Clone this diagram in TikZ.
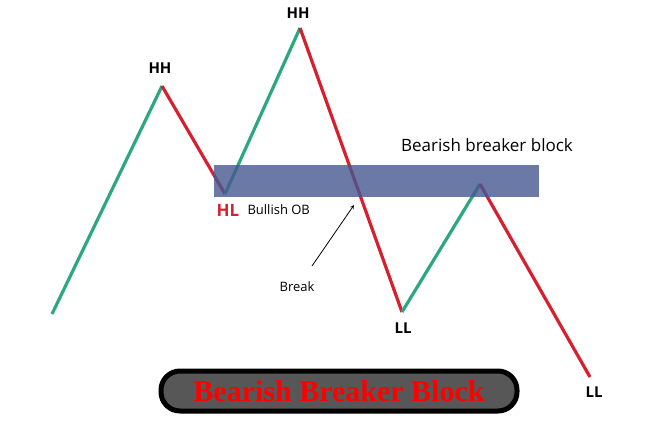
\documentclass[tikz,border=0pt]{standalone}
\usepackage{fontspec}
\setmainfont{Open Sans}
\newfontfamily\serifb{Liberation Serif}
\definecolor{upg}{RGB}{44,168,128}
\definecolor{dnr}{RGB}{214,32,48}
\definecolor{obb}{RGB}{70,88,145}
\begin{document}
\begin{tikzpicture}[x=1pt,y=-1pt,
  upl/.style={upg,line width=3.2pt},
  dnl/.style={dnr,line width=3.2pt},
  lbl/.style={font=\bfseries\fontsize{15}{15}\selectfont},
  txt/.style={font=\fontsize{13}{13}\selectfont}]
\useasboundingbox (0,0) rectangle (664,424);
\coordinate (s) at (52,314);
\coordinate (h1) at (162,86);
\coordinate (hl) at (225,194);
\coordinate (h2) at (300,28);
\coordinate (l1) at (402,312);
\coordinate (lh) at (480,184);
\coordinate (l2) at (590,377);
\draw[upl] (s) -- (h1);
\draw[dnl] (h1) -- (hl);
\draw[upl] (hl) -- (h2);
\draw[dnl] (h2) -- (l1);
\draw[upl] (l1) -- (lh);
\draw[dnl] (lh) -- (l2);
\node[fill=obb,fill opacity=0.8,minimum width=325pt,minimum height=32pt,inner sep=0pt] (ob) at (376.5,181) {};
\node[lbl] (th1) at (160,68) {HH};
\node[lbl] (th2) at (298,13) {HH};
\node[lbl,text=dnr,font=\bfseries\fontsize{17}{17}\selectfont] (thl) at (228,210) {HL};
\node[txt,anchor=west] (bob) at (244,210) {Bullish OB};
\node[font=\fontsize{17}{17}\selectfont] (bbb) at (487,145) {Bearish breaker block};
\node[txt] (brk) at (297,287) {Break};
\coordinate (a1) at (312,266);
\coordinate (a2) at (354,205);
\draw[-stealth,line width=0.8pt] (a1) -- (a2);
\node[lbl] (tl1) at (403,328) {LL};
\node[lbl] (tl2) at (594,392) {LL};
\node[draw=black,line width=5pt,fill=black!66,rounded corners=19pt,minimum width=356pt,minimum height=40pt,
  text=red,font=\serifb\bfseries\fontsize{30}{30}\selectfont] (btn) at (339,391) {Bearish Breaker Block};
\end{tikzpicture}
\end{document}
